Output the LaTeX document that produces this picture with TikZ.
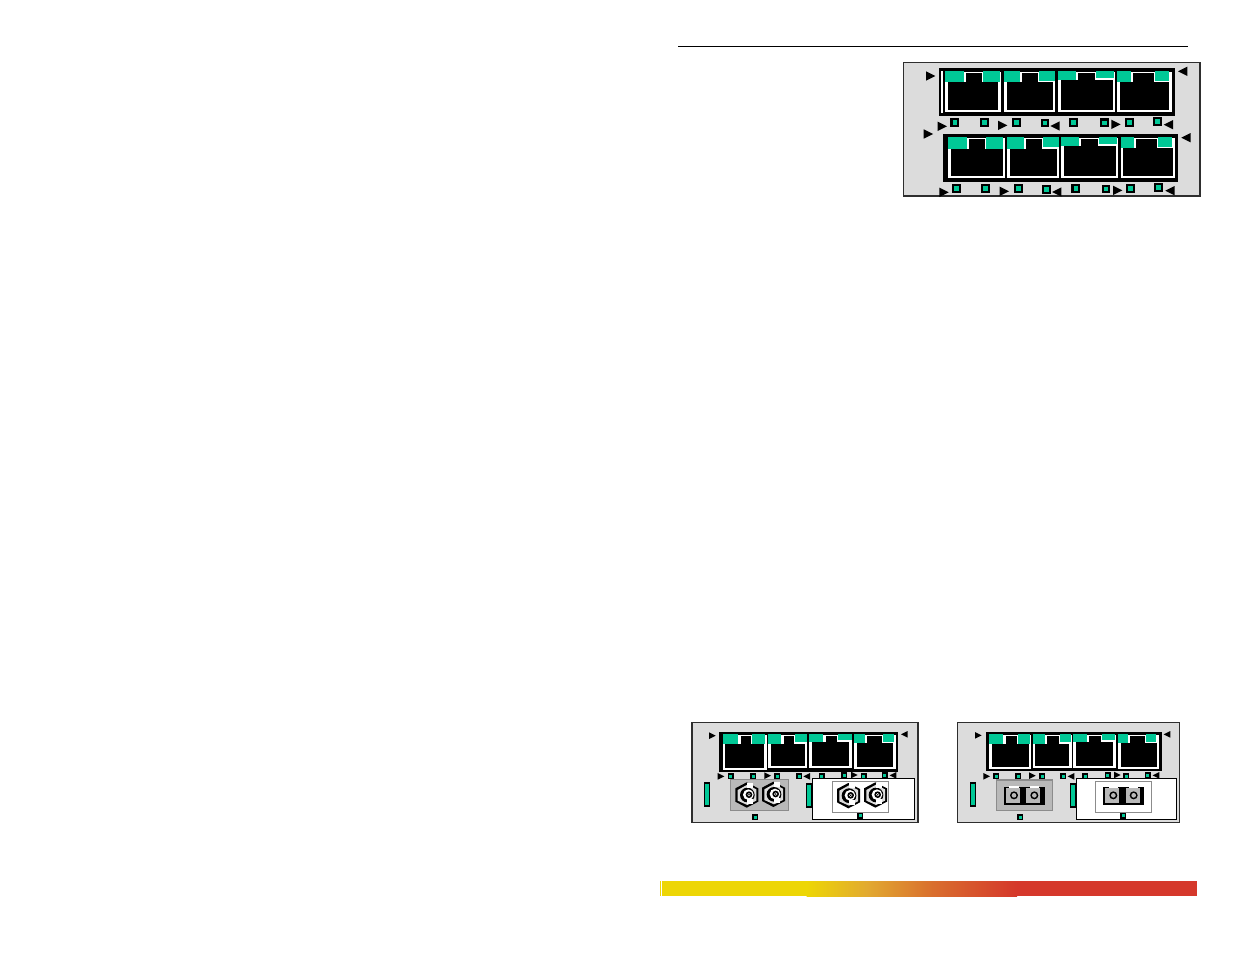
\documentclass[tikz,border=0pt]{standalone}
\definecolor{panelgrey}{HTML}{DCDCDC}
\definecolor{edgegrey}{HTML}{2E2E2E}
\definecolor{ledgreen}{HTML}{00C896}
\definecolor{boxgrey}{HTML}{B9B9B9}
\definecolor{boxedge}{HTML}{8C8C8C}
\definecolor{barY}{HTML}{EDD605}
\definecolor{barA}{HTML}{E2AA30}
\definecolor{barO}{HTML}{D96E2E}
\definecolor{barR}{HTML}{D5382B}
\tikzset{
  panel/.style={fill=panelgrey,draw=edgegrey,line width=1.6pt},
  framebk/.style={fill=black},
  greenfill/.style={fill=ledgreen},
}
% port: x1,x2,top,bot,left-green right edge,left-green bottom,right-green left edge,right-green right edge,right-green bottom
\newcommand{\rjport}[9]{
  \fill[white] (#1,#3+3) rectangle (#2,#4);
  \fill[black] (#1+8,#6) rectangle (#2-7,#4-6);
  \fill[black] (#5+7,#3+7) rectangle (#7-4,#6+1);
  \fill[greenfill] (#1,#3) rectangle (#5,#6);
  \fill[greenfill] (#7,#3) rectangle (#8,#9);
}
% led: x,y,half outer,half inner
\newcommand{\ledsq}[4]{
  \fill[black] (#1-#3,#2-#3) rectangle (#1+#3,#2+#3);
  \fill[greenfill] (#1-#4,#2-#4) rectangle (#1+#4,#2+#4);
}
\newcommand{\trR}[3]{\fill[black] (#1-#3,#2-#3) -- (#1+#3,#2) -- (#1-#3,#2+#3) -- cycle;}
\newcommand{\trL}[3]{\fill[black] (#1+#3,#2-#3) -- (#1-#3,#2) -- (#1+#3,#2+#3) -- cycle;}
% ST connector
\newcommand{\stconn}[2]{
  \begin{scope}[shift={(#1,#2)}]
    \fill[black] (-2,-38) -- (33,-20) -- (33,20) -- (-2,38) -- (-36,20) -- (-36,-20) -- cycle;
    \fill[panelgrey] (0,-31) -- (27,-17) -- (27,17) -- (0,30) -- (-29,17) -- (-29,-15) -- cycle;
    \fill[black] (0,0) circle (22);
    \fill[white] (3,-1) circle (16);
    \fill[black] (5,-1) circle (10);
    \fill[white] (5,-1) circle (5);
    \fill[black] (5,-1) circle (2.5);
    \fill[white] (0,-37) rectangle (17,-22);
    \fill[white] (0,12) rectangle (17,27);
  \end{scope}
}
% SC connector
\newcommand{\scconn}[2]{
  \begin{scope}[shift={(#1,#2)}]
    \fill[black] (-30,-25) rectangle (32,29);
    \fill[boxgrey] (-24,-22) rectangle (18,22);
    \fill[white] (-14,-27) rectangle (14,-22);
    \fill[black] (0,0) circle (12);
    \fill[boxgrey] (0,0) circle (7);
    \fill[black] (18,-25) rectangle (25,29);
  \end{scope}
}
\begin{document}
\begin{tikzpicture}[x=1pt,y=-1pt]
\useasboundingbox (0,0) rectangle (1235,954);
\fill[white] (0,0) rectangle (1235,954);
% rule
\draw[black,line width=0.9pt] (678,46) -- (1188,46);
% top unit
\draw[panel] (903.5,62.5) rectangle (1200,196);
\begin{scope}[shift={(900,55)},scale=1/3]
  \fill[framebk] (118,40) rectangle (826,182);
  \fill[white] (122,48) rectangle (128,175);
  \rjport{135}{302}{48}{170}{192}{80}{249}{300}{80}
  \rjport{312}{465}{48}{170}{360}{80}{417}{465}{77}
  \rjport{475}{645}{48}{170}{527}{75}{589}{642}{68}
  \rjport{652}{815}{48}{170}{693}{80}{765}{807}{77}
  \fill[framebk] (130,238) rectangle (835,380);
  \rjport{144}{315}{246}{368}{201}{281}{258}{309}{281}
  \rjport{321}{478}{246}{368}{372}{281}{429}{477}{275}
  \rjport{484}{655}{246}{368}{537}{273}{597}{651}{267}
  \rjport{662}{825}{246}{368}{702}{278}{774}{816}{275}
  \foreach \x/\y in {164/202,253/202,349/202,435/204,520/202,613/203,688/202,772/199,169/400,256/400,355/400,439/403,527/400,618/402,691/400,775/397}{\ledsq{\x}{\y}{13}{6.5}}
  \foreach \x/\y in {92/63,127/214,308/211,648/208,85/237,132/412,313/409,653/406}{\trR{\x}{\y}{14}}
  \foreach \x/\y in {848/49,465/213,805/209,858/248,470/411,810/407}{\trL{\x}{\y}{14}}
\end{scope}
% lower left unit
\draw[panel] (691.7,722.3) rectangle (917.7,822.3);
\begin{scope}[shift={(685,715)},scale=1/3]
  \fill[framebk] (103,52) rectangle (640,170);
  \rjport{113}{245}{57}{165}{160}{88}{201}{240}{88}
  \rjport{249}{367}{57}{160}{289}{88}{330}{367}{80}
  \rjport{372}{500}{57}{160}{415}{82}{460}{502}{76}
  \rjport{507}{632}{57}{162}{540}{85}{594}{628}{80}
  \foreach \x/\y in {137/183,204/183,277/183,342/184,410/183,478/180,536/183,599/181,211/306}{\ledsq{\x}{\y}{9}{4.5}}
  \foreach \x/\y in {82/62,108/184,248/182,508/180}{\trR{\x}{\y}{10}}
  \foreach \x/\y in {658/58,365/184,624/181}{\trL{\x}{\y}{10}}
  \fill[black] (57,202) rectangle (75,275);
  \fill[greenfill] (61,206) rectangle (71,271);
  \fill[black] (363,205) rectangle (381,278);
  \fill[greenfill] (367,209) rectangle (377,274);
  \fill[boxgrey,draw=boxedge,line width=1.6pt] (137,194) rectangle (310,286);
  \stconn{187}{240}
  \stconn{267}{238}
  \fill[white,draw=black,line width=1.4pt] (382,191) rectangle (689,314);
  \fill[white,draw=boxedge,line width=1pt] (442,198) rectangle (611,292);
  \stconn{492}{242}
  \stconn{573}{240}
  \ledsq{526}{302}{9}{4.5}
\end{scope}
% lower right unit
\draw[panel] (957.3,722.3) rectangle (1179.3,822.3);
\begin{scope}[shift={(950,715)},scale=1/3]
  \fill[framebk] (107,52) rectangle (635,168);
  \rjport{117}{243}{57}{163}{160}{87}{204}{241}{87}
  \rjport{248}{365}{57}{160}{285}{87}{330}{363}{80}
  \rjport{370}{497}{57}{160}{411}{80}{457}{495}{75}
  \rjport{504}{628}{57}{162}{534}{83}{588}{618}{80}
  \foreach \x/\y in {138/183,204/183,277/183,340/184,405/183,473/180,529/183,593/180,211/306}{\ledsq{\x}{\y}{9}{4.5}}
  \foreach \x/\y in {85/61,110/184,247/182,502/180}{\trR{\x}{\y}{10}}
  \foreach \x/\y in {651/58,363/184,618/181}{\trL{\x}{\y}{10}}
  \fill[black] (60,202) rectangle (78,275);
  \fill[greenfill] (64,206) rectangle (74,271);
  \fill[black] (360,205) rectangle (378,278);
  \fill[greenfill] (364,209) rectangle (374,274);
  \fill[boxgrey,draw=boxedge,line width=1.6pt] (140,195) rectangle (307,287);
  \scconn{192}{241}
  \scconn{253}{241}
  \fill[white,draw=black,line width=1.4pt] (379,191) rectangle (680,314);
  \fill[white,draw=boxedge,line width=1.6pt] (437,199) rectangle (604,292);
  \scconn{490}{241}
  \scconn{551}{241}
  \ledsq{520}{302}{9}{4.5}
\end{scope}
% gradient bar
\fill[barY] (660,881) rectangle (661,896);
\fill[barY] (662,881) rectangle (807,896);
\fill[left color=barY,right color=barA,shading angle=90] (806.7,881) rectangle (867,896);
\fill[left color=barA,right color=barO] (866.7,881) rectangle (933,896);
\fill[left color=barO,right color=barR] (932.7,881) rectangle (1017,896);
\fill[barR] (1016.7,881) rectangle (1197,896);
\end{tikzpicture}
\end{document}
